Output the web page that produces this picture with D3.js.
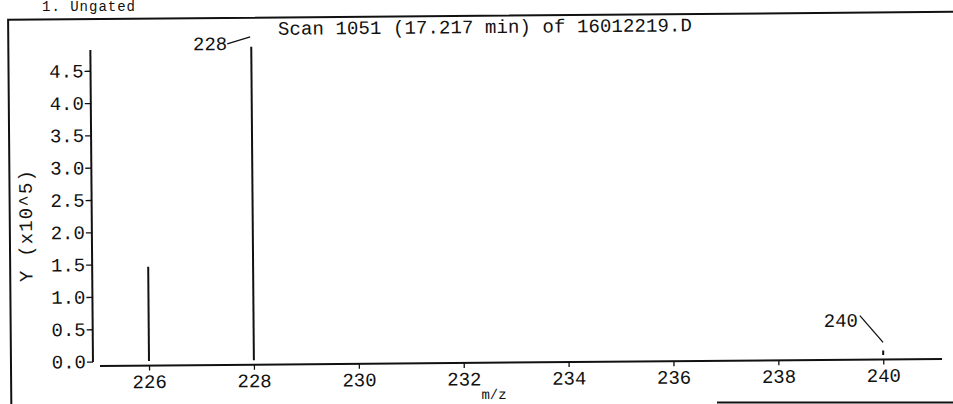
<!DOCTYPE html>
<html>
<head>
<meta charset="utf-8">
<script src="https://cdn.jsdelivr.net/npm/d3@7"></script>
<style>
  html, body { margin: 0; padding: 0; background: #fff; }
  svg { display: block; }
  text { font-family: "Liberation Mono", "DejaVu Sans Mono", monospace; fill: #111; }
</style>
</head>
<body>
<svg id="chart" width="953" height="404"></svg>
<script>
// ---- data ----
const mzValues   = [226, 228, 240];
const abundance  = [1.46, 4.85, 0.07];          // Y (x10^5)
const peakLabels = [null, "228", "240"];
const yTicks = [0, 0.5, 1.0, 1.5, 2.0, 2.5, 3.0, 3.5, 4.0, 4.5];
const xTicks = [226, 228, 230, 232, 234, 236, 238, 240];
const titleText = "Scan 1051 (17.217 min) of 16012219.D";
const xLabel = "m/z";
const yLabel = "Y (x10^5)";
const headerText = "1. Ungated";

// ---- layout ----
const W = 953, H = 404;
const FS = 19;
const ROT = -0.48, RCX = 100, RCY = 366;
const rad = ROT * Math.PI / 180;
// convert a desired screen point into the rotated group's frame
function unrot(x, y) {
  const dx = x - RCX, dy = y - RCY;
  const c = Math.cos(-rad), s = Math.sin(-rad);
  return [RCX + dx * c - dy * s, RCY + dx * s + dy * c];
}

const svg = d3.select("#chart");
const g = svg.append("g").attr("transform", `rotate(${ROT},${RCX},${RCY})`);

const x = d3.scaleLinear().domain([225.065, 241.12]).range([100, 942]);
const y = d3.scaleLinear().domain([0, 4.82]).range([361.5, 50]);
const ink = "#111";
const mono = '"Liberation Mono", "DejaVu Sans Mono", monospace';

// frame
g.append("path")
  .attr("d", `M11,${H + 6} L11,19 L${W + 10},19`)
  .attr("fill", "none").attr("stroke", ink).attr("stroke-width", 2);
svg.append("line")
  .attr("x1", 717).attr("x2", W).attr("y1", 402.5).attr("y2", 402.5)
  .attr("stroke", ink).attr("stroke-width", 2);

// header (partly off the top in the reference; kept visible here)
svg.append("text").attr("x", 42).attr("y", 11)
  .attr("font-size", 14).attr("letter-spacing", 1).text(headerText);

// title
{
  const [tx, ty] = unrot(485, 33);
  g.append("text").attr("x", tx).attr("y", ty).attr("text-anchor", "middle")
    .attr("font-size", FS).attr("textLength", 414).attr("lengthAdjust", "spacing")
    .text(titleText);
}

// y axis
const yAxis = d3.axisLeft(y).tickValues(yTicks).tickSize(6).tickPadding(1)
  .tickFormat(d3.format(".1f"));
const ya = g.append("g").attr("transform", "translate(93,0)").call(yAxis);
ya.select(".domain").attr("d", `M0,${y(0) + 0.5}V${y(4.82)}`)
  .attr("stroke", ink).attr("stroke-width", 2);
ya.selectAll(".tick line").attr("stroke", ink).attr("stroke-width", 1.3);
ya.selectAll(".tick text").attr("font-size", FS).attr("fill", ink).attr("font-family", mono);

// x axis
const xAxis = d3.axisBottom(x).tickValues(xTicks).tickSize(5).tickPadding(4)
  .tickFormat(d3.format("d"));
const xa = g.append("g").attr("transform", "translate(0,366)").call(xAxis);
xa.select(".domain").attr("d", `M${x.range()[0]},0H${x.range()[1]}`)
  .attr("stroke", ink).attr("stroke-width", 2);
xa.selectAll(".tick line").attr("stroke", ink).attr("stroke-width", 1.3);
xa.selectAll(".tick text").attr("font-size", FS).attr("fill", ink).attr("font-family", mono);

// axis titles
{
  const [lx, ly] = unrot(494, 399);
  g.append("text").attr("x", lx).attr("y", ly).attr("text-anchor", "middle")
    .attr("font-size", 14).text(xLabel);
  const [yx, yy] = unrot(32, 226);
  g.append("text").attr("transform", `translate(${yx},${yy}) rotate(-90)`)
    .attr("text-anchor", "middle").attr("font-size", FS)
    .attr("textLength", 112).attr("lengthAdjust", "spacing").text(yLabel);
}

// peaks
const peaks = mzValues.map((m, i) => ({ m, v: abundance[i], label: peakLabels[i] }));
g.selectAll("line.peak").data(peaks).join("line").attr("class", "peak")
  .attr("x1", d => x(d.m)).attr("x2", d => x(d.m))
  .attr("y1", y(0)).attr("y2", d => y(d.v))
  .attr("stroke", ink).attr("stroke-width", 2);

// peak annotations with leader lines
const ann = {
  "228": { lx0: -24, ly0: -3, lx1: -1, ly1: -10, tx: -24, ty: 3 },
  "240": { lx0: -23, ly0: -35, lx1: 0, ly1: -8, tx: -25, ty: -24 }
};
peaks.filter(d => d.label).forEach(d => {
  const a = ann[d.label];
  const px = x(d.m), py = y(d.v);
  g.append("line").attr("x1", px + a.lx0).attr("y1", py + a.ly0)
    .attr("x2", px + a.lx1).attr("y2", py + a.ly1)
    .attr("stroke", ink).attr("stroke-width", 1.3);
  g.append("text").attr("x", px + a.tx).attr("y", py + a.ty)
    .attr("text-anchor", "end").attr("font-size", FS)
    .text(d.label);
});
</script>
</body>
</html>
